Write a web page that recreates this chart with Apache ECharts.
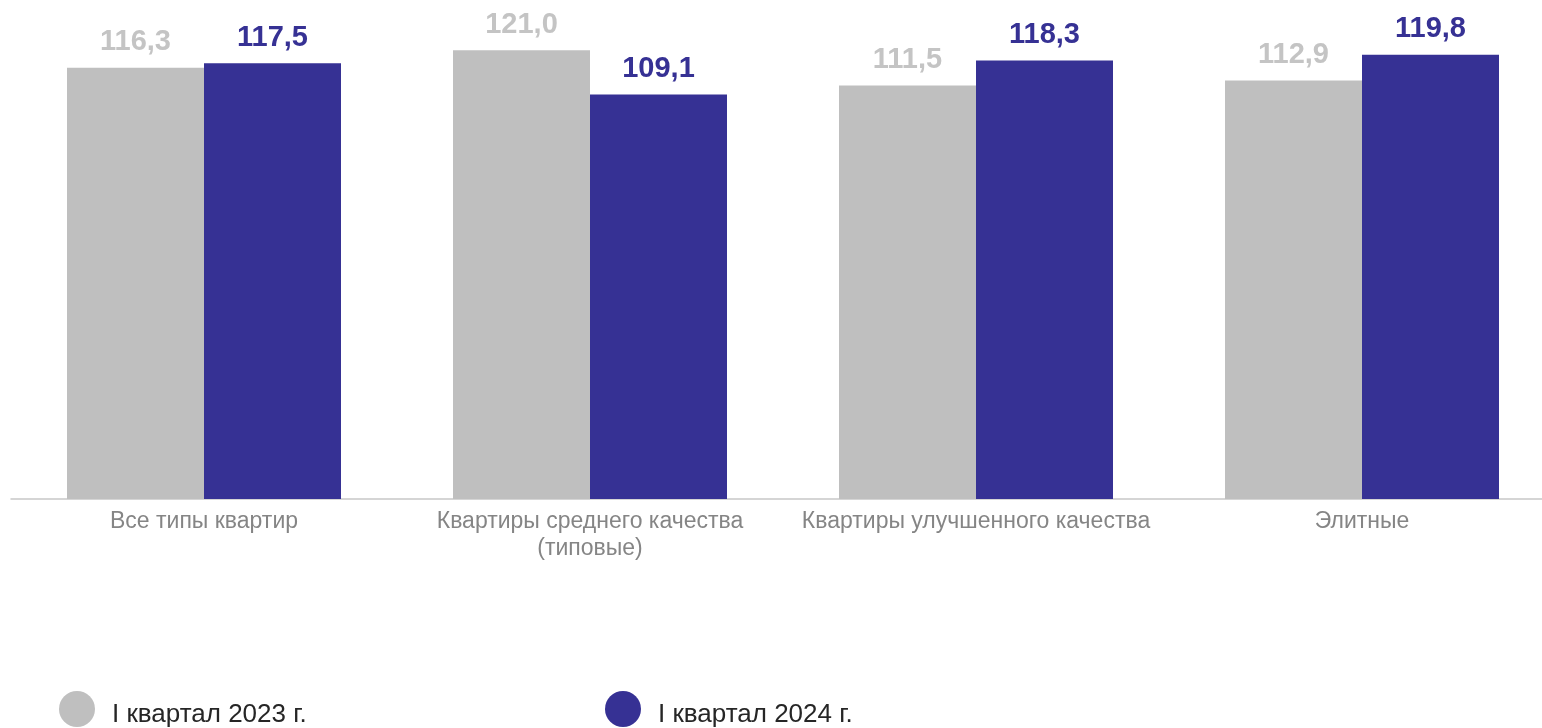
<!DOCTYPE html>
<html><head><meta charset="utf-8">
<script src="https://cdn.jsdelivr.net/npm/echarts@6/dist/echarts.min.js"></script>
<style>html,body{margin:0;padding:0;background:#fff;overflow:hidden;width:1542px;height:728px}#c{width:1560px;height:728px}</style>
</head><body><div id="c"></div>
<script>
const categories = ['Все типы квартир', 'Квартиры среднего качества\n(типовые)', 'Квартиры улучшенного качества', 'Элитные'];
const seriesNames = ['I квартал 2023 г.', 'I квартал 2024 г.'];
const values2023 = [116.3, 121.0, 111.5, 112.9];
const values2024 = [117.5, 109.1, 118.3, 119.8];
const colors = ['#BFBFBF', '#363194'];

const fmt = p => p.value.toFixed(1).replace('.', ',');
const chart = echarts.init(document.getElementById('c'));
const legendText = {
  color: '#262626', fontSize: 26, fontFamily: 'Liberation Sans, Arial', padding: [0, 0, 0, 12],
  rich: {
    s: { height: 12, fontSize: 1, lineHeight: 12 },
    t: { color: '#262626', fontSize: 26, fontFamily: 'Liberation Sans, Arial', lineHeight: 30 }
  }
};
const legendFmt = n => '{s| }\n{t|' + n + '}';
chart.setOption({
  animation: false,
  grid: { left: 11, width: 1544, top: 17, height: 482, containLabel: false },
  xAxis: {
    type: 'category', data: categories,
    axisLine: { lineStyle: { color: '#C8C8C8', width: 1.5 } },
    axisTick: { show: false },
    axisLabel: { color: '#858585', fontSize: 23, fontFamily: 'Liberation Sans, Arial', margin: 9, lineHeight: 27, interval: 0 }
  },
  yAxis: { type: 'value', min: 0, max: 130, show: false, splitLine: { show: false } },
  legend: [
    { data: [seriesNames[0]], left: 54, top: 683, icon: 'circle', itemWidth: 36, itemHeight: 36, textStyle: legendText, formatter: legendFmt },
    { data: [seriesNames[1]], left: 600, top: 683, icon: 'circle', itemWidth: 36, itemHeight: 36, textStyle: legendText, formatter: legendFmt }
  ],
  series: [
    { name: seriesNames[0], type: 'bar', data: values2023, barWidth: 137, barGap: '0%',
      itemStyle: { color: colors[0] },
      label: { show: true, position: 'top', distance: 11, formatter: fmt, color: '#C4C4C4', fontSize: 29, fontWeight: 'bold', fontFamily: 'Liberation Sans, Arial' } },
    { name: seriesNames[1], type: 'bar', data: values2024, barWidth: 137, barGap: '0%',
      itemStyle: { color: colors[1] },
      label: { show: true, position: 'top', distance: 11, formatter: fmt, color: '#363194', fontSize: 29, fontWeight: 'bold', fontFamily: 'Liberation Sans, Arial' } }
  ]
});
</script></body></html>
